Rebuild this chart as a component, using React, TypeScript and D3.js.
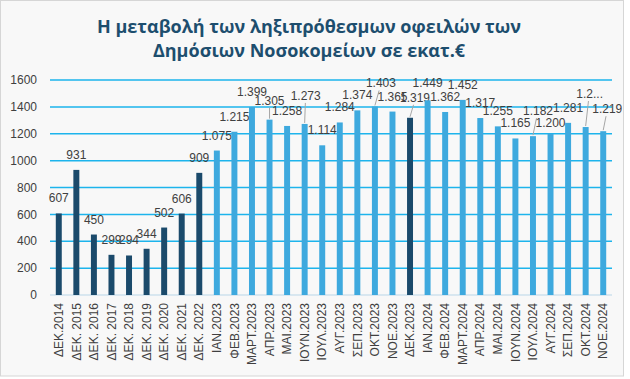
import React from "react";
import * as d3 from "d3";

const categories: string[] = [
  "ΔΕΚ.2014", "ΔΕΚ. 2015", "ΔΕΚ. 2016", "ΔΕΚ. 2017", "ΔΕΚ. 2018", "ΔΕΚ. 2019", "ΔΕΚ. 2020", "ΔΕΚ. 2021", "ΔΕΚ. 2022",
  "ΙΑΝ.2023", "ΦΕΒ.2023", "ΜΑΡΤ.2023", "ΑΠΡ.2023", "ΜΑΙ.2023", "ΙΟΥΝ.2023", "ΙΟΥΛ.2023", "ΑΥΓ.2023", "ΣΕΠ.2023", "ΟΚΤ.2023", "ΝΟΕ.2023", "ΔΕΚ.2023",
  "ΙΑΝ.2024", "ΦΕΒ.2024", "ΜΑΡΤ.2024", "ΑΠΡ.2024", "ΜΑΙ.2024", "ΙΟΥΝ.2024", "ΙΟΥΛ.2024", "ΑΥΓ.2024", "ΣΕΠ.2024", "ΟΚΤ.2024", "ΝΟΕ.2024",
];

const values: number[] = [
  607, 931, 450, 299, 294, 344, 502, 606, 909,
  1075, 1215, 1399, 1305, 1258, 1273, 1114, 1284, 1374, 1403, 1365, 1319,
  1449, 1362, 1452, 1317, 1255, 1165, 1182, 1200, 1281, 1250, 1219,
];

// December (year-end) bars are dark
const isYearEnd: boolean[] = categories.map((c) => c.startsWith("ΔΕΚ"));

const yTicks: number[] = [0, 200, 400, 600, 800, 1000, 1200, 1400, 1600];

const titleLines: string[] = [
  "Η μεταβολή των ληξιπρόθεσμων οφειλών των",
  "Δημόσιων Νοσοκομείων σε εκατ.€",
];

// label text overrides (truncated in the original)
const labelOverrides: Record<number, string> = { 30: "1.2..." };

// label placement adjustments (dx, dy) with leader lines, as in the original
const labelShift: Record<number, [number, number, boolean]> = {
  12: [0, -4, true],
  14: [1, -13, true],
  18: [6, -8, true],
  20: [5, -5, true],
  21: [0, -2, false],
  27: [5, -10, true],
  28: [0, 4, false],
  30: [4, -18, true],
  31: [4, -7, true],
};

const W = 630;
const H = 379;
const plot = { left: 50, right: 612, top: 80, bottom: 295 };

const grLocale = d3.formatLocale({
  decimal: ",",
  thousands: ".",
  grouping: [3],
  currency: ["", "€"],
});
const fmt = grLocale.format(",d");

export default function App() {
  const x = d3
    .scaleBand<string>()
    .domain(categories)
    .range([plot.left, plot.right])
    .paddingInner(0.66)
    .paddingOuter(0.33);
  const y = d3.scaleLinear().domain([0, 1600]).range([plot.bottom, plot.top]);

  const font = "'Liberation Sans', Arial, sans-serif";

  return (
    <svg
      width={W}
      height={H}
      style={{ position: "absolute", left: 0, top: 0 }}
      xmlns="http://www.w3.org/2000/svg"
    >
      <rect x={0.5} y={0.5} width={623} height={375.5} fill="#f8f8f8" stroke="#d6d6d6" />
      {titleLines.map((t, i) => (
        <text
          key={i}
          x={309}
          y={33 + i * 24}
          textAnchor="middle"
          fontFamily="'Open Sans', sans-serif"
          fontWeight={700}
          fontSize={18}
          fill="#1d4e6e"
        >
          {t}
        </text>
      ))}
      {yTicks.map((t) => (
        <g key={t}>
          <line
            x1={plot.left}
            x2={plot.right}
            y1={y(t)}
            y2={y(t)}
            stroke={t === 0 ? "#b9d6e8" : "#1db4ec"}
            strokeWidth={t === 0 ? 1 : 1.5}
          />
          <text
            x={37}
            y={y(t)}
            dy="0.35em"
            textAnchor="end"
            fontFamily={font}
            fontSize={12}
            fill="#404040"
          >
            {t}
          </text>
        </g>
      ))}
      {categories.map((c, i) => {
        const v = values[i];
        const bx = x(c)!;
        const bw = x.bandwidth();
        const cx = bx + bw / 2;
        const top = y(v);
        const sh = labelShift[i] || [0, 0, false];
        const lx = cx + sh[0];
        const ly = top - 11 + sh[1];
        const txt = labelOverrides[i] ?? fmt(v);
        return (
          <g key={c}>
            <rect
              x={bx}
              y={top}
              width={bw}
              height={y(0) - top}
              fill={isYearEnd[i] ? "#1b4a6b" : "#3ea9de"}
            />
            {sh[2] && (
              <line
                x1={lx - sh[0] * 0.3}
                y1={ly + 3}
                x2={cx}
                y2={top - 1}
                stroke="#a6a6a6"
                strokeWidth={1}
              />
            )}
            <text
              x={lx}
              y={ly}
              textAnchor="middle"
              fontFamily={font}
              fontSize={12}
              fill="#404040"
            >
              {txt}
            </text>
            <text
              transform={`translate(${cx},303) rotate(-90)`}
              dy="0.35em"
              textAnchor="end"
              fontFamily={font}
              fontSize={12}
              fill="#404040"
            >
              {c}
            </text>
          </g>
        );
      })}
    </svg>
  );
}
